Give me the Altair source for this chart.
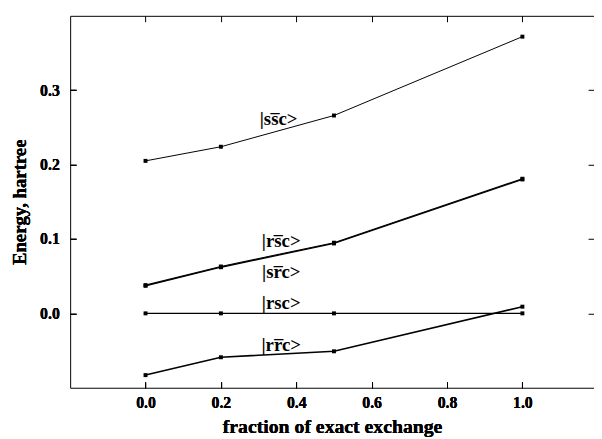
import altair as alt
import pandas as pd

x_vals = [0.0, 0.2, 0.5, 1.0]
ssc_bar = [0.205, 0.224, 0.266, 0.372]
rsc_bar = [0.038, 0.063, 0.095, 0.181]
src_bar = [0.037, 0.062, 0.094, 0.180]
rsc = [0.0, 0.0, 0.0, 0.0]
rrc_bar = [-0.083, -0.059, -0.051, 0.009]

series_names = ["ssbarc", "rsbarc", "srbarc", "rsc", "rrbarc"]
series_values = [ssc_bar, rsc_bar, src_bar, rsc, rrc_bar]

label_text = ["|ss\u0305c>", "|rs\u0305c>", "|sr\u0305c>", "|rsc>", "|rr\u0305c>"]
label_x = [0.353, 0.36, 0.36, 0.36, 0.36]
label_y = [0.261, 0.097, 0.056, 0.0132, -0.042]

x_ticks = [0.0, 0.2, 0.4, 0.6, 0.8, 1.0]
y_ticks = [0.0, 0.1, 0.2, 0.3]

rows = []
for name, vals in zip(series_names, series_values):
    for x, y in zip(x_vals, vals):
        rows.append({"series": name, "x": x, "y": y})
df = pd.DataFrame(rows)
labels = pd.DataFrame({"text": label_text, "x": label_x, "y": label_y})

FONT = "Liberation Serif, Times New Roman, serif"
xscale = alt.Scale(domain=[-0.2, 1.19], nice=False, zero=False)
yscale = alt.Scale(domain=[-0.1, 0.4], nice=False, zero=False)

common_axis = dict(domain=False, offset=-6, tickSize=6, tickColor="black",
                   labelFont=FONT, labelFontWeight="bold", labelFontSize=16,
                   labelColor="black", titleFont=FONT, titleFontWeight="bold",
                   titleColor="black", grid=False, format=".1f")

xaxis = alt.Axis(orient="bottom", values=x_ticks, labelPadding=7, titlePadding=6,
                 titleFontSize=20, title="fraction of exact exchange", **common_axis)
yaxis = alt.Axis(orient="left", values=y_ticks, labelPadding=11, titlePadding=10,
                 titleFontSize=19, title="Energy, hartree", **common_axis)

width_scale = alt.Scale(domain=series_names, range=[1.0, 1.6, 1.6, 1.0, 1.0])

lines = alt.Chart(df).mark_line(color="black").encode(
    x=alt.X("x:Q", scale=xscale, axis=xaxis),
    y=alt.Y("y:Q", scale=yscale, axis=yaxis),
    detail="series:N",
    strokeWidth=alt.StrokeWidth("series:N", scale=width_scale, legend=None),
)

points = alt.Chart(df).mark_square(color="black", size=16, opacity=1).encode(
    x=alt.X("x:Q", scale=xscale, axis=xaxis),
    y=alt.Y("y:Q", scale=yscale, axis=yaxis),
)

texts = alt.Chart(labels).mark_text(font=FONT, fontSize=19, fontWeight="bold",
                                    color="black", fill="black",
                                    align="center", baseline="middle").encode(
    x=alt.X("x:Q", scale=xscale, axis=xaxis),
    y=alt.Y("y:Q", scale=yscale, axis=yaxis),
    text="text:N",
)

top_axis = alt.Axis(orient="top", values=x_ticks, labels=False, title=None,
                    domain=False, offset=-6, tickSize=6, tickColor="black", grid=False)
right_axis = alt.Axis(orient="right", values=y_ticks, labels=False, title=None,
                      domain=False, offset=-6, tickSize=6, tickColor="black", grid=False)

frame_ticks = alt.Chart(df).mark_point(opacity=0).encode(
    x=alt.X("x:Q", scale=xscale, axis=top_axis),
    y=alt.Y("y:Q", scale=yscale, axis=right_axis),
)

chart = alt.layer(lines, points, texts, frame_ticks).resolve_axis(
    x="independent", y="independent"
).properties(
    width=531, height=377,
    autosize=alt.AutoSizeParams(type="none"),
    padding={"left": 63, "top": 5, "right": 0, "bottom": 48},
    background="white",
).configure_view(stroke="black", strokeWidth=1)

chart.save("out.html", embed_options={"renderer": "svg", "actions": False})
